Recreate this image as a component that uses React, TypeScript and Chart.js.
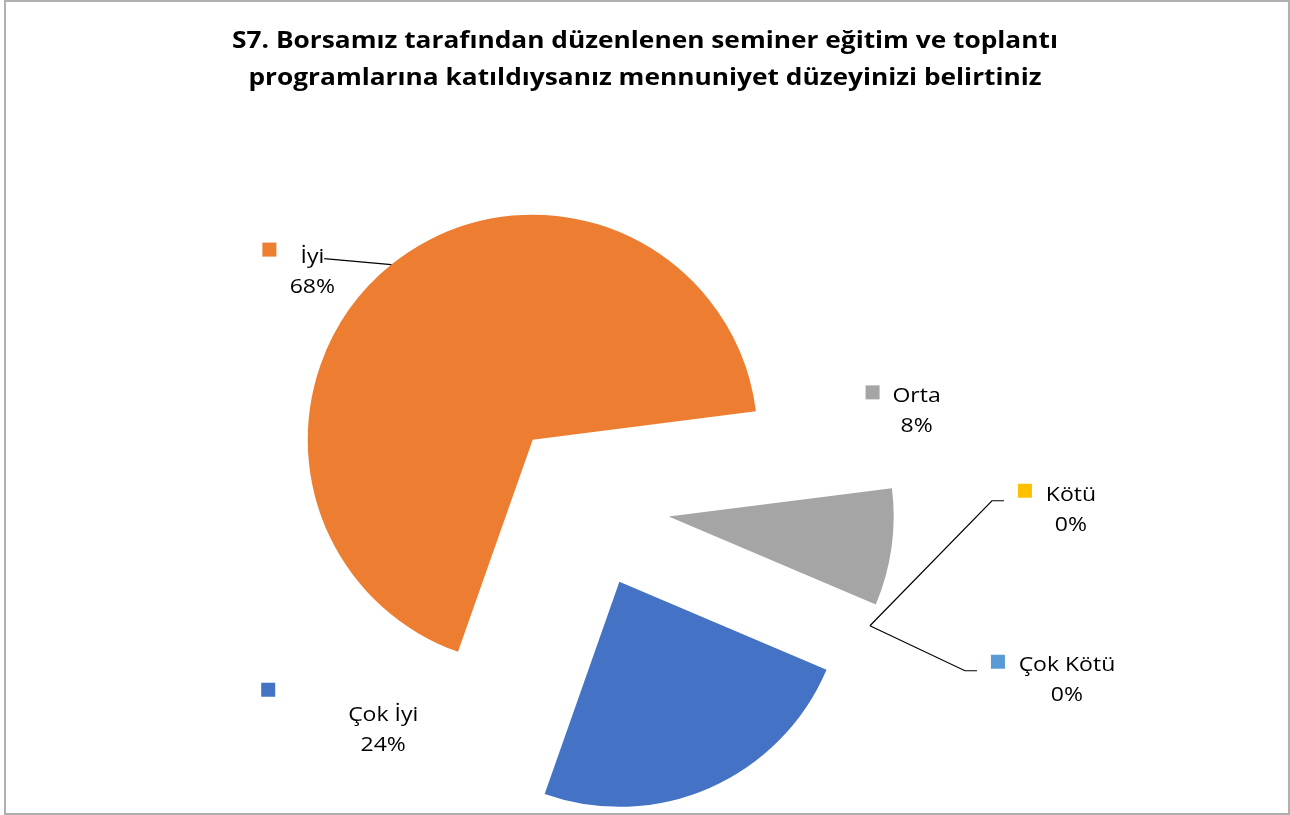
import React, { useEffect, useRef } from 'react';
import { Chart, registerables } from 'chart.js';

Chart.register(...registerables);

// ---- data ----
const TITLE_LINES = [
  'S7. Borsamız tarafından düzenlenen seminer eğitim ve toplantı',
  'programlarına katıldıysanız mennuniyet düzeyinizi belirtiniz',
];
const categories = ['Çok İyi', 'İyi', 'Orta', 'Kötü', 'Çok Kötü'];
const values = [24, 67.6, 8.4, 0, 0];
const colors = ['#4472C4', '#ED7D31', '#A5A5A5', '#FFC000', '#5B9BD5'];

// ---- style / layout ----
const FONT = '"Open Sans", Lato, sans-serif';
const TITLE_SIZE = 24;
const TITLE_SX = 1.095; // horizontal text stretch to mimic the original face
const LABEL_SIZE = 20;
const LABEL_SX = 1.15;
const LABEL_LINE = 30;
const KEY = 14;
const EXPLODE = 84; // px each slice is pulled out from the centre
const RADIUS = 225;

// label placement relative to each slice's outer mid point (text centre / first baseline)
const labelLayout = [
  { dx: -327, dy: -67, kx: -122, ky: -38, leader: 'none' },
  { dx: -79, dy: -2, kx: -50, ky: -20, leader: 'straight' },
  { dx: 25, dy: -145, kx: -51, ky: -17, leader: 'none' },
  { dx: 201, dy: -125, kx: -53, ky: -17, leader: 'elbow' },
  { dx: 197, dy: 45, kx: -76, ky: -16, leader: 'elbow' },
];

function drawText(ctx: CanvasRenderingContext2D, text: string, x: number, y: number, sx: number) {
  ctx.save();
  ctx.translate(x, y);
  ctx.scale(sx, 1);
  ctx.textAlign = 'center';
  ctx.textBaseline = 'alphabetic';
  ctx.fillText(text, 0, 0);
  ctx.restore();
}

const explodePlugin = {
  id: 'explode',
  beforeDatasetsDraw(chart: any) {
    chart.getDatasetMeta(0).data.forEach((el: any) => {
      const mid = (el.startAngle + el.endAngle) / 2;
      el.x += Math.cos(mid) * EXPLODE;
      el.y += Math.sin(mid) * EXPLODE;
    });
  },
  afterDatasetsDraw(chart: any) {
    chart.getDatasetMeta(0).data.forEach((el: any) => {
      const mid = (el.startAngle + el.endAngle) / 2;
      el.x -= Math.cos(mid) * EXPLODE;
      el.y -= Math.sin(mid) * EXPLODE;
    });
  },
};

const framePlugin = {
  id: 'frame',
  beforeDraw(chart: any) {
    const { ctx, width, height } = chart;
    ctx.save();
    ctx.fillStyle = '#ffffff';
    ctx.fillRect(0, 0, width, height);
    ctx.strokeStyle = '#b0b0b0';
    ctx.lineWidth = 2;
    ctx.strokeRect(5, 1, width - 6, height - 2);
    ctx.restore();
  },
  afterDraw(chart: any) {
    const { ctx } = chart;
    ctx.save();
    ctx.fillStyle = '#000000';
    ctx.font = `bold ${TITLE_SIZE}px ${FONT}`;
    TITLE_LINES.forEach((t, i) => drawText(ctx, t, 645, 48 + i * 37, TITLE_SX));
    ctx.restore();
  },
};

const labelPlugin = {
  id: 'sliceLabels',
  afterDraw(chart: any) {
    const ctx = chart.ctx;
    const meta = chart.getDatasetMeta(0);
    const total = values.reduce((a, b) => a + b, 0);
    ctx.save();
    ctx.font = `${LABEL_SIZE}px ${FONT}`;
    meta.data.forEach((el: any, i: number) => {
      const mid = (el.startAngle + el.endAngle) / 2;
      const R = el.outerRadius + EXPLODE;
      const px = el.x + Math.cos(mid) * R;
      const py = el.y + Math.sin(mid) * R;
      const L = labelLayout[i];
      const tx = px + L.dx;
      const ty = py + L.dy;
      const pct = Math.round((values[i] / total) * 100) + '%';

      // leader line
      ctx.strokeStyle = '#000000';
      ctx.lineWidth = 1.2;
      if (L.leader === 'straight') {
        const w = ctx.measureText(categories[i]).width * LABEL_SX;
        ctx.beginPath();
        ctx.moveTo(tx + w / 2, ty - 4);
        ctx.lineTo(px, py);
        ctx.stroke();
      } else if (L.leader === 'elbow') {
        const endX = tx + L.kx - 14;
        ctx.beginPath();
        ctx.moveTo(px, py);
        ctx.lineTo(endX - 12, ty);
        ctx.lineTo(endX, ty);
        ctx.stroke();
      }

      // legend key
      ctx.fillStyle = colors[i];
      ctx.fillRect(tx + L.kx, ty + L.ky, KEY, KEY);

      // text
      ctx.fillStyle = '#000000';
      drawText(ctx, categories[i], tx, ty, LABEL_SX);
      drawText(ctx, pct, tx, ty + LABEL_LINE, LABEL_SX);
    });
    ctx.restore();
  },
};

export default function App() {
  const ref = useRef<HTMLCanvasElement | null>(null);
  useEffect(() => {
    if (!ref.current) return;
    const chart = new Chart(ref.current, {
      type: 'pie',
      data: {
        labels: categories,
        datasets: [
          {
            data: values,
            backgroundColor: colors,
            borderWidth: 0,
          },
        ],
      },
      options: {
        responsive: false,
        animation: false,
        rotation: 113,
        radius: RADIUS,
        layout: { padding: { left: 0, right: 119, top: 195, bottom: 0 } },
        plugins: {
          legend: { display: false },
          tooltip: { enabled: false },
          title: { display: false },
        },
      } as any,
      plugins: [framePlugin, explodePlugin, labelPlugin],
    });
    return () => chart.destroy();
  }, []);
  return (
    <div style={{ position: 'fixed', left: 0, top: 0, width: 1290, height: 815 }}>
      <canvas ref={ref} width={1290} height={815} style={{ display: 'block' }} />
    </div>
  );
}
